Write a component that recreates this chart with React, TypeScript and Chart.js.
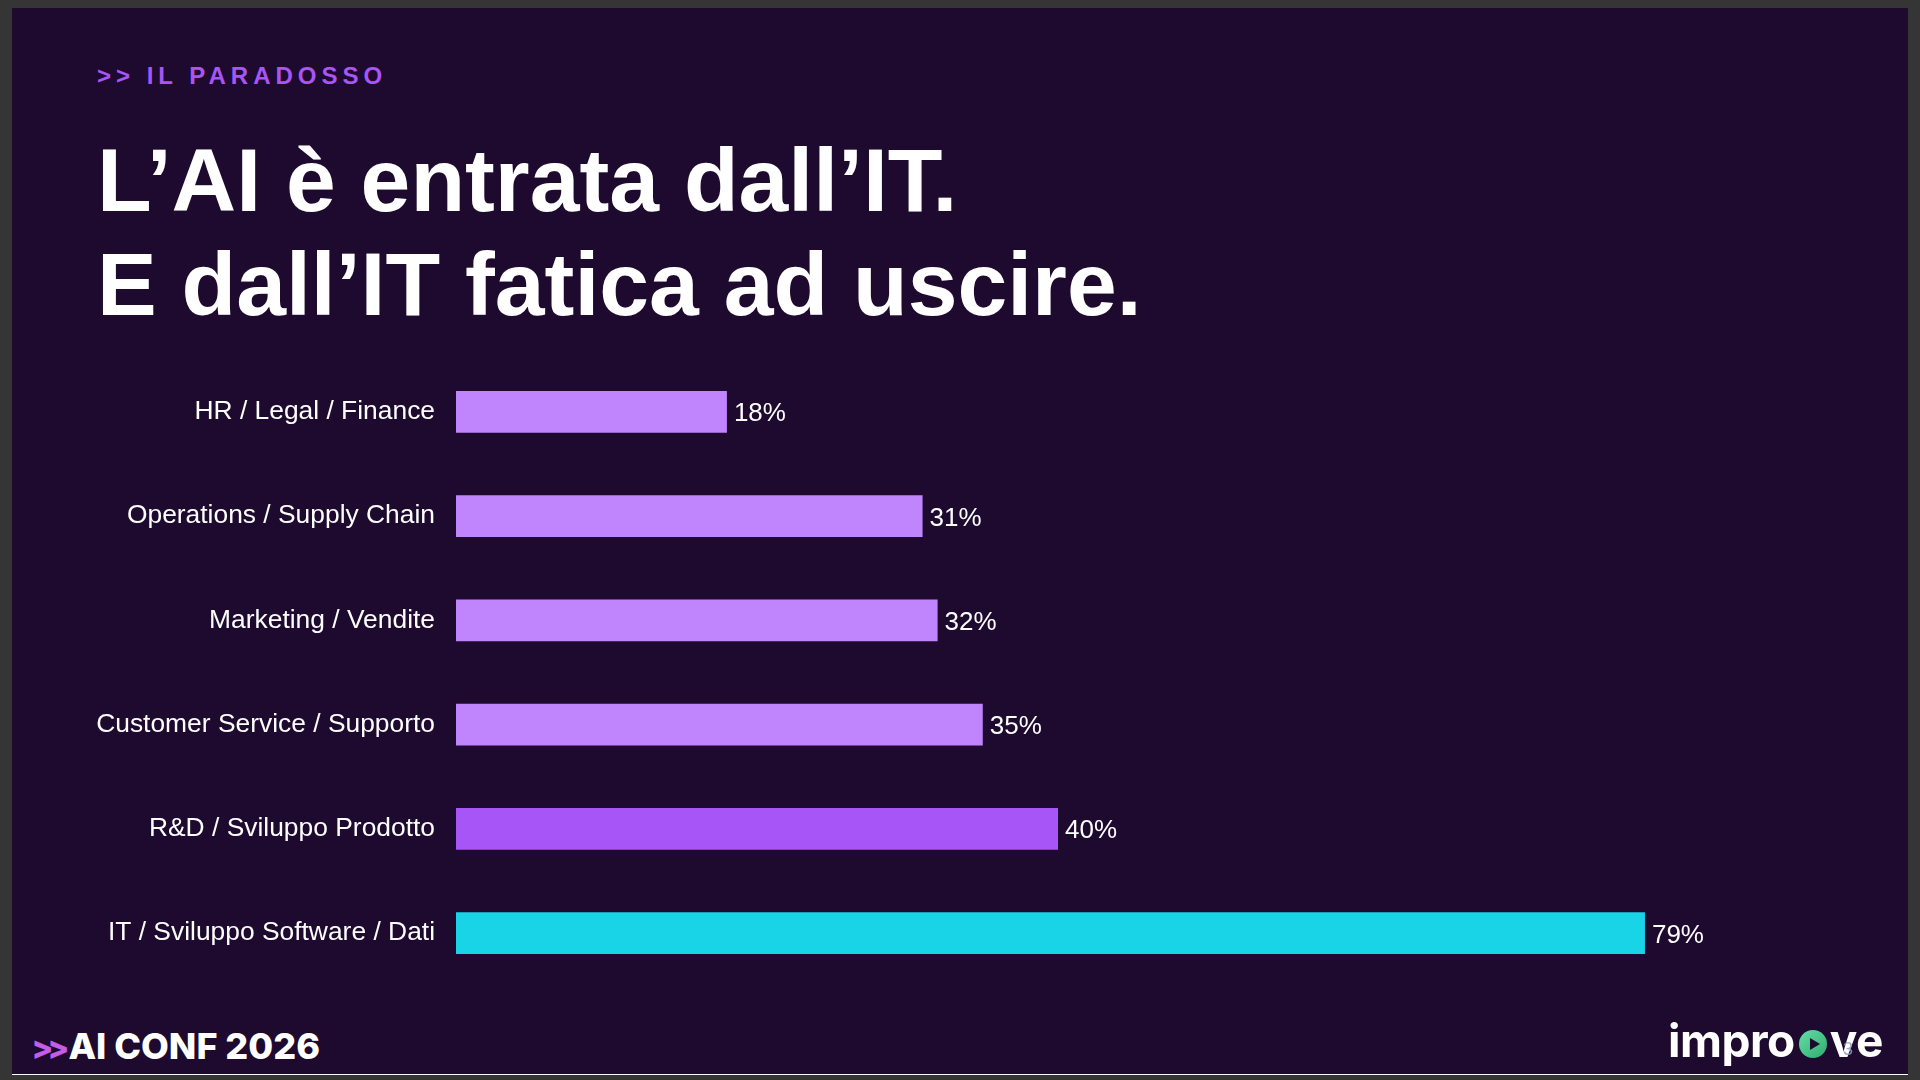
import React, { useEffect, useRef } from "react";
import { Chart, registerables } from "chart.js";

Chart.register(...registerables);

const categories = [
  "HR / Legal / Finance",
  "Operations / Supply Chain",
  "Marketing / Vendite",
  "Customer Service / Supporto",
  "R&D / Sviluppo Prodotto",
  "IT / Sviluppo Software / Dati",
];
const values = [18, 31, 32, 35, 40, 79];
const barColors = ["#c084fc", "#c084fc", "#c084fc", "#c084fc", "#a855f7", "#19d3e6"];
const valueSuffix = "%";
const xMax = 90;

const FONT = "'Liberation Sans', Arial, Helvetica, sans-serif";
const TICK_FONT_SIZE = 26.4;
const TICK_PADDING = 13;
// chart.js pads the y axis by half a label height plus the tick padding at both ends
const EDGE = (TICK_FONT_SIZE * 1.2) / 2 + TICK_PADDING;
const AREA_TOP = 359.4 - 8; // slide-relative
const AREA_HEIGHT = 625.2;

const valueLabelPlugin = {
  id: "valueLabels",
  afterDatasetsDraw(chart: any) {
    const ctx = chart.ctx;
    const meta = chart.getDatasetMeta(0);
    meta.data.forEach((bar: any, i: number) => {
      ctx.save();
      ctx.font = `26px ${FONT}`;
      ctx.fillStyle = "#ffffff";
      ctx.textAlign = "left";
      ctx.textBaseline = "alphabetic";
      ctx.fillText(`${values[i]}${valueSuffix}`, bar.x + 7, bar.y + 9.5);
      ctx.restore();
    });
  },
};

function BarChart() {
  const ref = useRef<HTMLCanvasElement | null>(null);
  const canvasTop = AREA_TOP - EDGE;
  const canvasHeight = Math.round(AREA_HEIGHT + 2 * EDGE);
  useEffect(() => {
    if (!ref.current) return;
    const chart = new Chart(ref.current, {
      type: "bar",
      data: {
        labels: categories,
        datasets: [
          {
            data: values,
            backgroundColor: barColors,
            borderWidth: 0,
            barPercentage: 0.4,
            categoryPercentage: 1,
          },
        ],
      },
      options: {
        indexAxis: "y",
        responsive: false,
        animation: false,
        layout: { padding: { top: 0, bottom: 0, right: 97.5, left: 0 } },
        plugins: { legend: { display: false }, tooltip: { enabled: false } },
        scales: {
          x: { display: false, min: 0, max: xMax },
          y: {
            grid: { display: false },
            border: { display: false },
            ticks: {
              color: "#ffffff",
              font: { size: TICK_FONT_SIZE, family: FONT },
              padding: TICK_PADDING,
              autoSkip: false,
            },
            afterFit: (s: any) => {
              s.width = 444;
            },
          },
        },
      } as any,
      plugins: [valueLabelPlugin],
    });
    return () => chart.destroy();
  }, []);
  return (
    <canvas
      ref={ref}
      width={1896}
      height={canvasHeight}
      style={{ position: "absolute", left: 0, top: canvasTop, width: 1896, height: canvasHeight }}
    />
  );
}

export default function App() {
  return (
    <div
      style={{
        position: "fixed",
        left: 0,
        top: 0,
        width: 1920,
        height: 1080,
        background: "#353535",
        overflow: "hidden",
      }}
    >
      <div
        style={{
          position: "absolute",
          left: 12,
          top: 8,
          width: 1896,
          height: 1066,
          background: "#1e0a2e",
          borderBottom: "1px solid #ffffff",
          overflow: "hidden",
        }}
      >
        <div
          style={{
            position: "absolute",
            left: 85,
            top: 55.7,
            fontFamily: FONT,
            fontWeight: 700,
            fontSize: 24,
            lineHeight: "24px",
            letterSpacing: 5,
            color: "#a855f7",
            whiteSpace: "nowrap",
          }}
        >
          {">> IL PARADOSSO"}
        </div>
        <div
          style={{
            position: "absolute",
            left: 85,
            top: 120,
            fontFamily: FONT,
            fontWeight: 700,
            fontSize: 89.5,
            lineHeight: "104px",
            color: "#ffffff",
            whiteSpace: "nowrap",
          }}
        >
          <div>L’AI è entrata dall’IT.</div>
          <div>E dall’IT fatica ad uscire.</div>
        </div>

        <BarChart />

        <div
          style={{
            position: "absolute",
            left: 19.5,
            top: 1019.9,
            fontFamily: "Inter, 'Open Sans', sans-serif",
            fontWeight: 800,
            fontSize: 36,
            lineHeight: "36px",
            color: "#ffffff",
            whiteSpace: "nowrap",
          }}
        >
          <span style={{ color: "#c55ce6", fontSize: 32, letterSpacing: -6, marginRight: 5 }}>{">>"}</span>
          AI CONF 2026
        </div>

        <div
          style={{
            position: "absolute",
            left: 1656,
            top: 1009,
            display: "flex",
            alignItems: "center",
            fontFamily: "Inter, 'Open Sans', sans-serif",
            fontWeight: 700,
            fontSize: 46,
            lineHeight: "46px",
            color: "#ffffff",
            whiteSpace: "nowrap",
            letterSpacing: -0.5,
          }}
        >
          <span>impro</span>
          <span
            style={{
              display: "inline-block",
              width: 28,
              height: 28,
              borderRadius: "50%",
              background: "linear-gradient(135deg, #66dca8 0%, #2fae6c 100%)",
              position: "relative",
              margin: "8px 3px 0 4px",
            }}
          >
            <span
              style={{
                position: "absolute",
                left: 11,
                top: 7.5,
                width: 0,
                height: 0,
                borderTop: "6.5px solid transparent",
                borderBottom: "6.5px solid transparent",
                borderLeft: "10px solid #1e0a2e",
              }}
            />
          </span>
          <span>ve</span>
        </div>
        <div
          style={{
            position: "absolute",
            left: 1831,
            top: 1031.8,
            fontFamily: FONT,
            fontSize: 18,
            lineHeight: "18px",
            color: "rgba(150,150,190,0.85)",
          }}
        >
          3
        </div>
      </div>
    </div>
  );
}
